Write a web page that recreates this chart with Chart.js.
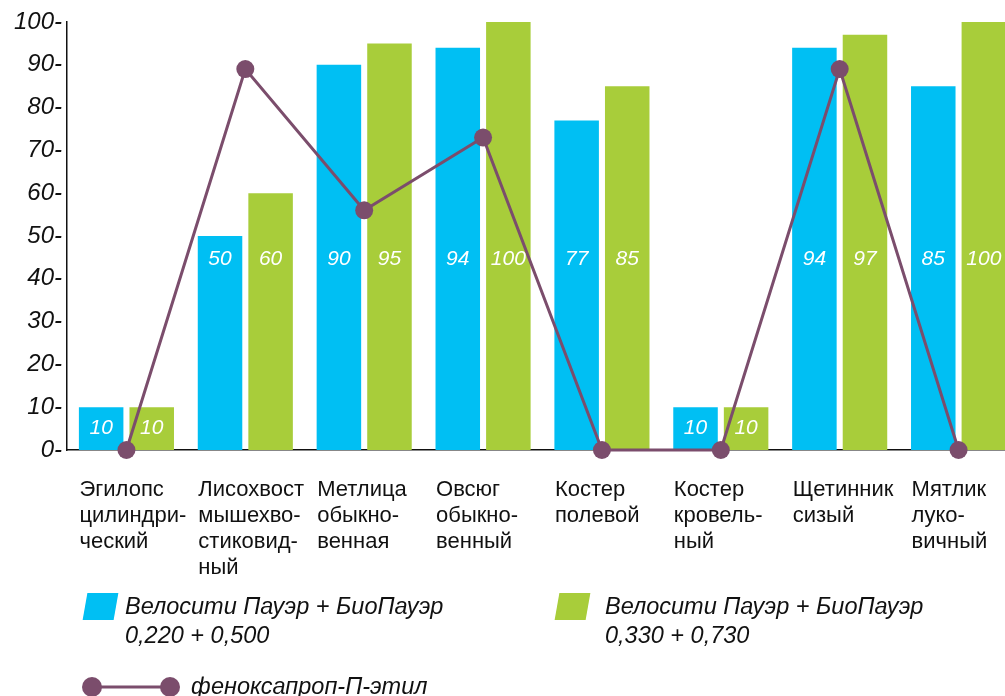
<!DOCTYPE html>
<html>
<head>
<meta charset="utf-8">
<script src="https://cdn.jsdelivr.net/npm/chart.js@4.4.1/dist/chart.umd.min.js"></script>
<style>
    body { margin: 0; width: 1005px; height: 696px; overflow: hidden; background: #fff; position: relative; font-family: "Liberation Sans", Arial, sans-serif; }
    #wrap { position: absolute; left: 0; top: 0; width: 1027px; height: 696px; }
    .lg { position: absolute; font-style: italic; font-size: 23.5px; line-height: 29px; color: #111; }
    .sw { position: absolute; width: 31px; height: 27px; transform: skewX(-10deg); }
</style>
</head>
<body>
<div id="wrap"><canvas id="chart"></canvas></div>

<div class="sw" style="left:85px; top:593px; background:#00bff3;"></div>
<div class="lg" style="left:125px; top:592px;">Велосити Пауэр + БиоПауэр<br>0,220 + 0,500</div>
<div class="sw" style="left:557px; top:593px; background:#a8cd3a;"></div>
<div class="lg" style="left:605px; top:592px;">Велосити Пауэр + БиоПауэр<br>0,330 + 0,730</div>
<div class="lg" style="left:191px; top:672px;">феноксапроп-П-этил</div>
<canvas id="lineKey" width="110" height="30" style="position:absolute; left:78px; top:672px;"></canvas>

<script>
// Categories (weed species), split into lines like in the picture
var categories = [
    ['Эгилопс', 'цилиндри-', 'ческий'],
    ['Лисохвост', 'мышехво-', 'стиковид-', 'ный'],
    ['Метлица', 'обыкно-', 'венная'],
    ['Овсюг', 'обыкно-', 'венный'],
    ['Костер', 'полевой'],
    ['Костер', 'кровель-', 'ный'],
    ['Щетинник', 'сизый'],
    ['Мятлик', 'луко-', 'вичный']
];
var seriesBlue = [10, 50, 90, 94, 77, 10, 94, 85];     // 0,220 + 0,500
var seriesGreen = [10, 60, 95, 100, 85, 10, 97, 100];  // 0,330 + 0,730
var seriesLine = [0, 89, 56, 73, 0, 0, 89, 0];         // феноксапроп-П-этил
var yTicks = [0, 10, 20, 30, 40, 50, 60, 70, 80, 90, 100];

var BLUE = '#00bff3';
var GREEN = '#a8cd3a';
var PURPLE = '#7b4d6c';

// white italic numbers inside the bars
var barLabels = {
    id: 'barLabels',
    afterDatasetsDraw: function (chart) {
        var ctx = chart.ctx;
        var y = chart.scales.y;
        var fixedY = y.getPixelForValue(44.5);
        ctx.save();
        ctx.fillStyle = '#fff';
        ctx.font = 'italic 21px "Liberation Sans", Arial, sans-serif';
        ctx.textAlign = 'center';
        ctx.textBaseline = 'middle';
        [0, 1].forEach(function (di) {
            var meta = chart.getDatasetMeta(di);
            var data = chart.data.datasets[di].data;
            meta.data.forEach(function (bar, i) {
                var ty = bar.y < fixedY - 20 ? fixedY : (bar.y + bar.base) / 2;
                ctx.fillText(String(data[i]), bar.x, ty);
            });
        });
        ctx.restore();
    }
};

new Chart(document.getElementById('chart'), {
    type: 'bar',
    data: {
        labels: categories,
        datasets: [{
            label: 'Велосити Пауэр + БиоПауэр 0,220 + 0,500',
            data: seriesBlue,
            backgroundColor: BLUE,
            borderWidth: 0,
            categoryPercentage: 0.851,
            barPercentage: 0.88,
            order: 2
        }, {
            label: 'Велосити Пауэр + БиоПауэр 0,330 + 0,730',
            data: seriesGreen,
            backgroundColor: GREEN,
            borderWidth: 0,
            categoryPercentage: 0.851,
            barPercentage: 0.88,
            order: 2
        }, {
            type: 'line',
            label: 'феноксапроп-П-этил',
            data: seriesLine,
            borderColor: PURPLE,
            backgroundColor: PURPLE,
            borderWidth: 3,
            pointRadius: 9,
            pointBackgroundColor: PURPLE,
            pointBorderWidth: 0,
            tension: 0,
            clip: false,
            order: 0
        }]
    },
    options: {
        responsive: true,
        maintainAspectRatio: false,
        animation: false,
        layout: { padding: { top: 22, left: 0, right: 0, bottom: 0 } },
        plugins: {
            legend: { display: false },
            tooltip: { enabled: false }
        },
        scales: {
            x: {
                grid: { display: false, drawTicks: false },
                border: { display: true, color: '#111', width: 1.5 },
                ticks: {
                    color: '#111',
                    align: 'start',
                    labelOffset: -47,
                    padding: 27,
                    maxRotation: 0,
                    autoSkip: false,
                    font: { family: '"Liberation Sans", Arial, sans-serif', size: 22, lineHeight: 1.18 }
                },
                afterFit: function (scale) {
                    scale.height = 696 - 450;
                    scale.paddingLeft = 0;
                    scale.paddingRight = 0;
                }
            },
            y: {
                min: 0,
                max: 100,
                grid: { display: false, drawTicks: false },
                border: { display: true, color: '#111', width: 1.5 },
                afterBuildTicks: function (scale) {
                    scale.ticks = yTicks.map(function (v) { return { value: v }; });
                },
                ticks: {
                    color: '#111',
                    padding: 5,
                    callback: function (v) { return v + '-'; },
                    font: { family: '"Liberation Sans", Arial, sans-serif', size: 24, style: 'italic' }
                },
                afterFit: function (scale) {
                    scale.width = 67;
                }
            }
        }
    },
    plugins: [barLabels]
});

// line marker for the legend
var k = document.getElementById('lineKey').getContext('2d');
k.strokeStyle = PURPLE;
k.fillStyle = PURPLE;
k.lineWidth = 3;
k.beginPath(); k.moveTo(14, 15); k.lineTo(92, 15); k.stroke();
[14, 92].forEach(function (x) { k.beginPath(); k.arc(x, 15, 10, 0, Math.PI * 2); k.fill(); });
</script>
</body>
</html>
